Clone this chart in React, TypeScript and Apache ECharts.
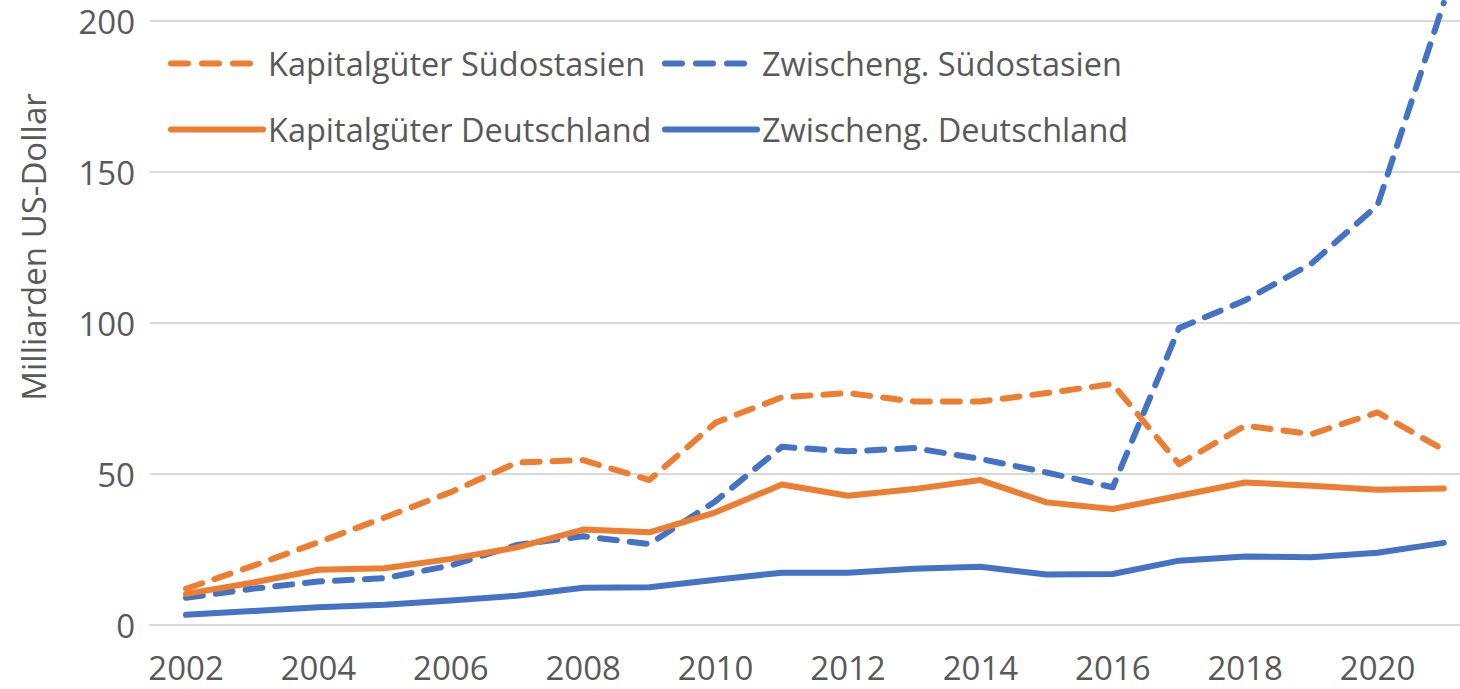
import React, { useEffect, useRef } from "react";
import * as echarts from "echarts";

const years = [2002, 2003, 2004, 2005, 2006, 2007, 2008, 2009, 2010, 2011, 2012, 2013, 2014, 2015, 2016, 2017, 2018, 2019, 2020, 2021];
const xTickLabels = [2002, 2004, 2006, 2008, 2010, 2012, 2014, 2016, 2018, 2020];
const kapSOA = [12, 19.5, 27.4, 35.6, 44, 53.8, 54.6, 48, 67, 75.4, 76.8, 74, 74, 76.8, 79.8, 53.3, 66, 63.2, 70.4, 58];
const zwiSOA = [9, 12, 14.4, 15.5, 19.7, 26.5, 29.4, 26.8, 41, 59, 57.5, 58.6, 55, 50.5, 45.6, 98.3, 107.5, 119.7, 139, 206];
const kapDE = [10.3, 14, 18.3, 18.8, 21.9, 25.7, 31.6, 30.7, 37.3, 46.5, 42.8, 45, 48, 40.6, 38.4, 42.8, 47.2, 46.1, 44.8, 45.2];
const zwiDE = [3.4, 4.6, 5.9, 6.7, 8.1, 9.7, 12.3, 12.5, 15, 17.3, 17.3, 18.6, 19.3, 16.7, 16.9, 21.3, 22.7, 22.4, 23.9, 27.2];

const NAME_KS = "Kapitalgüter Südostasien";
const NAME_ZS = "Zwischeng. Südostasien";
const NAME_KD = "Kapitalgüter Deutschland";
const NAME_ZD = "Zwischeng. Deutschland";
const Y_NAME = "Milliarden US-Dollar";

const ORANGE = "#ED7D31";
const BLUE = "#4472C4";
const TEXT = "#595959";
const GRID = "#D9D9D9";
const FONT = "Open Sans";

export default function App() {
  const ref = useRef<HTMLDivElement>(null);
  useEffect(() => {
    if (!ref.current) return;
    const chart = echarts.init(ref.current, undefined, { renderer: "svg" });
    const pairs = (vals: number[]) => years.map((y, i) => [y, vals[i]]);
    const DASH = [17, 13];
    const mk = (name: string, vals: number[], color: string, dashed: boolean) => ({
      name,
      type: "line",
      data: pairs(vals),
      symbol: "none",
      showSymbol: false,
      clip: false,
      lineStyle: { color, width: 6, type: dashed ? DASH : "solid", cap: "round", join: "round" },
      itemStyle: { color },
    });
    const legendText = { fontFamily: FONT, fontSize: 32.5, color: TEXT };
    const leg = (name: string, left: number, top: number, dashed: boolean) => ({
      data: [name],
      left,
      top,
      padding: 0,
      itemWidth: 92,
      itemHeight: 14,
      itemGap: 0,
      textStyle: legendText,
      selectedMode: false,
      itemStyle: { opacity: 0 },
      lineStyle: { width: 6, cap: "round", type: dashed ? [17, 14] : "solid" },
    });
    chart.setOption({
      animation: false,
      grid: { left: 150, right: 0, top: 21, bottom: 64 },
      legend: [
        leg(NAME_KS, 168, 47, true),
        leg(NAME_ZS, 662, 47, true),
        leg(NAME_KD, 168, 113, false),
        leg(NAME_ZD, 662, 113, false),
      ],
      xAxis: {
        type: "value",
        min: 2001.456,
        max: 2021.245,
        splitLine: { show: false },
        axisTick: { show: false },
        axisLine: { show: true, lineStyle: { color: GRID, width: 2 } },
        axisLabel: {
          customValues: xTickLabels,
          formatter: (v: number) => String(v),
          fontFamily: FONT,
          fontSize: 33,
          color: TEXT,
          margin: 26,
        },
      },
      yAxis: {
        type: "value",
        min: 0,
        max: 200,
        interval: 50,
        axisLine: { show: false },
        axisTick: { show: false },
        splitLine: { lineStyle: { color: GRID, width: 2 } },
        axisLabel: { fontFamily: FONT, fontSize: 33, color: TEXT, margin: 15 },
      },
      graphic: [
        {
          type: "text",
          x: 33,
          y: 247,
          rotation: Math.PI / 2,
          style: {
            text: Y_NAME,
            fontFamily: FONT,
            fontSize: 33,
            fill: TEXT,
            textAlign: "center",
            textVerticalAlign: "middle",
          },
        },
      ],
      series: [
        mk(NAME_KS, kapSOA, ORANGE, true),
        mk(NAME_ZS, zwiSOA, BLUE, true),
        mk(NAME_KD, kapDE, ORANGE, false),
        mk(NAME_ZD, zwiDE, BLUE, false),
      ],
    });
    return () => chart.dispose();
  }, []);
  return <div ref={ref} style={{ position: "absolute", left: 0, top: 0, width: 1460, height: 689 }} />;
}
